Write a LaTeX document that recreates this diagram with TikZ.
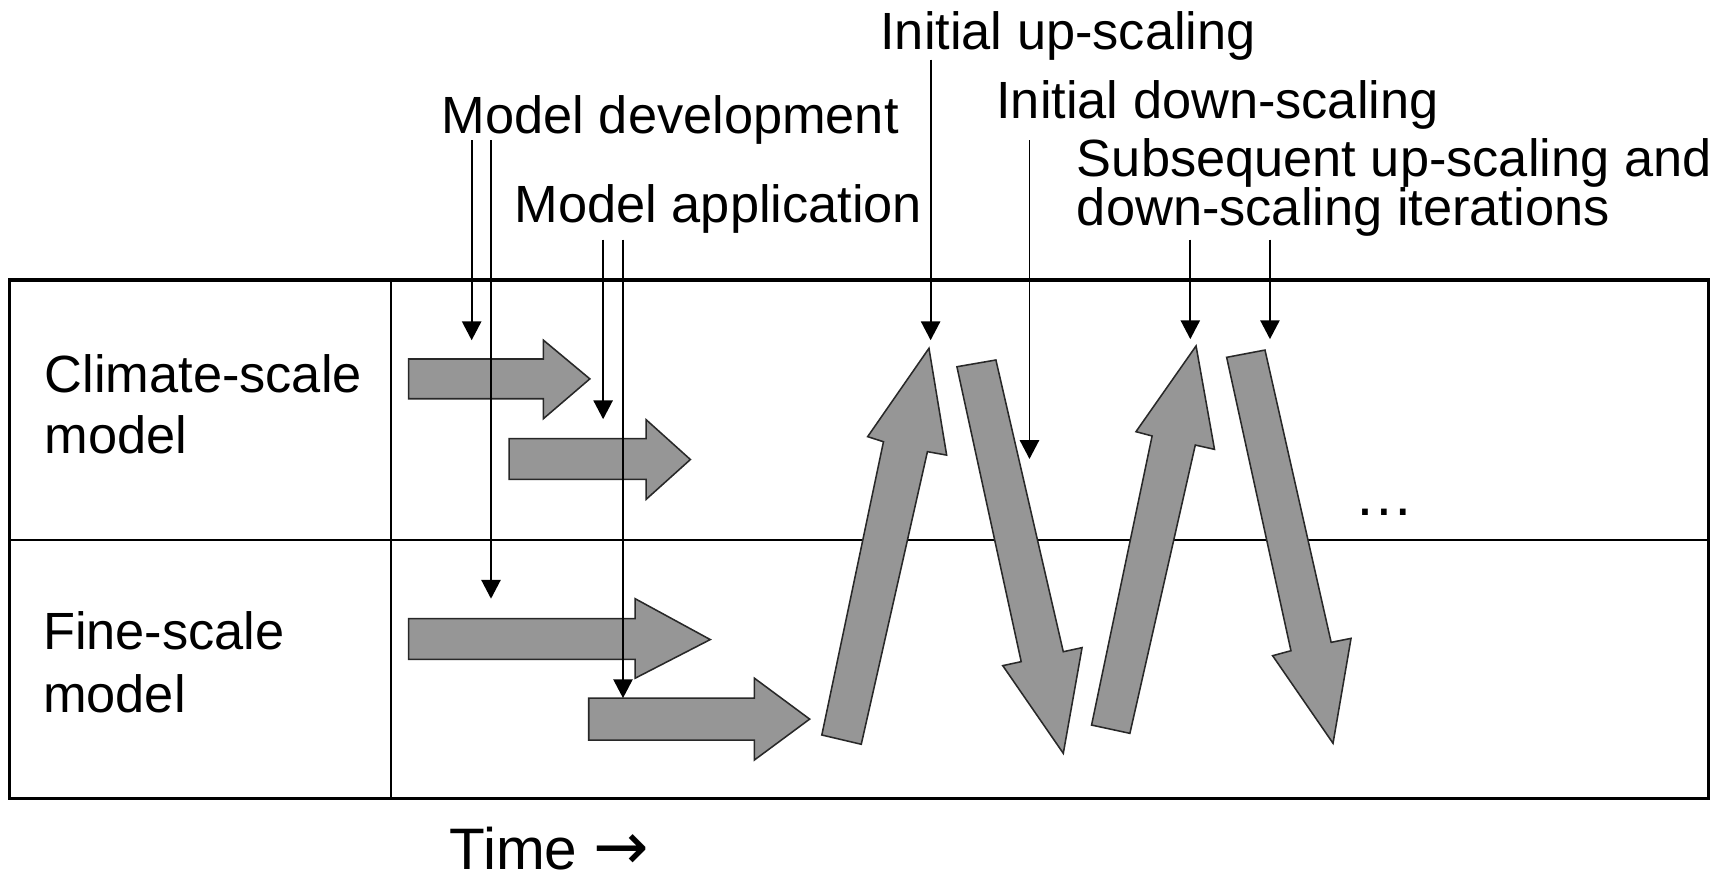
\documentclass[tikz,border=0pt]{standalone}
\usepackage{fontspec}
\setmainfont{Liberation Sans}
\newfontfamily\arrowfont{DejaVu Sans}
\usetikzlibrary{arrows.meta}
\definecolor{blockgray}{RGB}{150,150,150}
\definecolor{edgegray}{RGB}{40,40,40}
\tikzset{
  lbl/.style={anchor=base west, inner sep=0pt, outer sep=0pt, font=\fontsize{23.7pt}{28pt}\selectfont},
  timelbl/.style={anchor=base west, inner sep=0pt, outer sep=0pt, text depth=0pt, font=\fontsize{26.5pt}{30pt}\selectfont},
  pointer/.style={line width=0.8pt, -{Triangle[length=8.5pt,width=8.7pt]}},
  block/.style={fill=blockgray, draw=edgegray, line width=0.7pt, line join=miter},
  frame/.style={line width=1.4pt},
  divider/.style={line width=0.9pt}
}
\begin{document}
\begin{tikzpicture}[x=0.5pt,y=-0.5pt]
\useasboundingbox (0,0) rectangle (1568,798);
% frame
\draw[frame] (9,253.5) rectangle (1547,723);
\draw[divider] (9,489) -- (1547,489);
\draw[divider] (354,253.5) -- (354,723);
% row labels
\node[lbl] (clim1) at (40.5,355) {Climate-scale};
\node[lbl] (clim2) at (40.5,410.5) {model};
\node[lbl] (fine1) at (39,588) {Fine-scale};
\node[lbl] (fine2) at (39,645) {model};
\node[timelbl] (time) at (407,787) {Time {\arrowfont\fontsize{30pt}{30pt}\selectfont →}};
% top labels
\node[lbl] (iup) at (797,45) {Initial up-scaling};
\node[lbl] (dev) at (400,121) {Model development};
\node[lbl] (idown) at (902,107) {Initial down-scaling};
\node[lbl] (app) at (466,201) {Model application};
\node[lbl] (sub1) at (975,160) {Subsequent up-scaling and};
\node[lbl] (sub2) at (975,204) {down-scaling iterations};
\node[anchor=base, inner sep=0pt, font=\fontsize{27pt}{30pt}\selectfont] (dots) at (1253,467) {…};
% block arrows
\draw[block] (370,325) -- (492,325) -- (492,308) -- (534,343) -- (492,379) -- (492,361) -- (370,361) -- cycle;
\draw[block] (461,397) -- (585,397) -- (585,380) -- (625,416) -- (585,452) -- (585,434) -- (461,434) -- cycle;
\draw[block] (370,560) -- (575,560) -- (575,542) -- (643,579) -- (575,614) -- (575,597) -- (370,597) -- cycle;
\draw[block] (533,632) -- (683,632) -- (683,614) -- (733,651) -- (683,688) -- (683,670) -- (533,670) -- cycle;
\draw[block] (744,665.4) -- (799.8,399.9) -- (785.5,395.3) -- (841,315.3) -- (857,412) -- (839.6,408.9) -- (779.7,673.8) -- cycle;
\draw[block] (866.3,332) -- (901.6,325.9) -- (962.6,590) -- (979.6,586.3) -- (962.6,682) -- (907.8,602.6) -- (924.5,599) -- cycle;
\draw[block] (988.2,656.4) -- (1043,394.7) -- (1028.4,390.8) -- (1082.8,313.2) -- (1099.5,406.8) -- (1082.1,402.9) -- (1022.9,663.9) -- cycle;
\draw[block] (1110.5,323.5) -- (1145.2,316.9) -- (1205.1,581.5) -- (1223.1,577.9) -- (1206.8,672.9) -- (1152.1,593.6) -- (1168.7,589.1) -- cycle;
% pointer coordinates
\coordinate (devA) at (427,127);   \coordinate (devAe) at (427,308);
\coordinate (devB) at (444.5,127); \coordinate (devBe) at (444.5,542);
\coordinate (appA) at (546,217);   \coordinate (appAe) at (546,379.5);
\coordinate (appB) at (564,217);   \coordinate (appBe) at (564,632);
\coordinate (iupA) at (842.5,54);  \coordinate (iupAe) at (842.5,308);
\coordinate (idnA) at (932,127);   \coordinate (idnAe) at (932,415.5);
\coordinate (subA) at (1077.6,217); \coordinate (subAe) at (1077.6,307);
\coordinate (subB) at (1149.7,217); \coordinate (subBe) at (1149.7,307);
\draw[pointer] (devA) -- (devAe);
\draw[pointer] (devB) -- (devBe);
\draw[pointer] (appA) -- (appAe);
\draw[pointer] (appB) -- (appBe);
\draw[pointer] (iupA) -- (iupAe);
\draw[pointer] (idnA) -- (idnAe);
\draw[pointer] (subA) -- (subAe);
\draw[pointer] (subB) -- (subBe);
\end{tikzpicture}
\end{document}
